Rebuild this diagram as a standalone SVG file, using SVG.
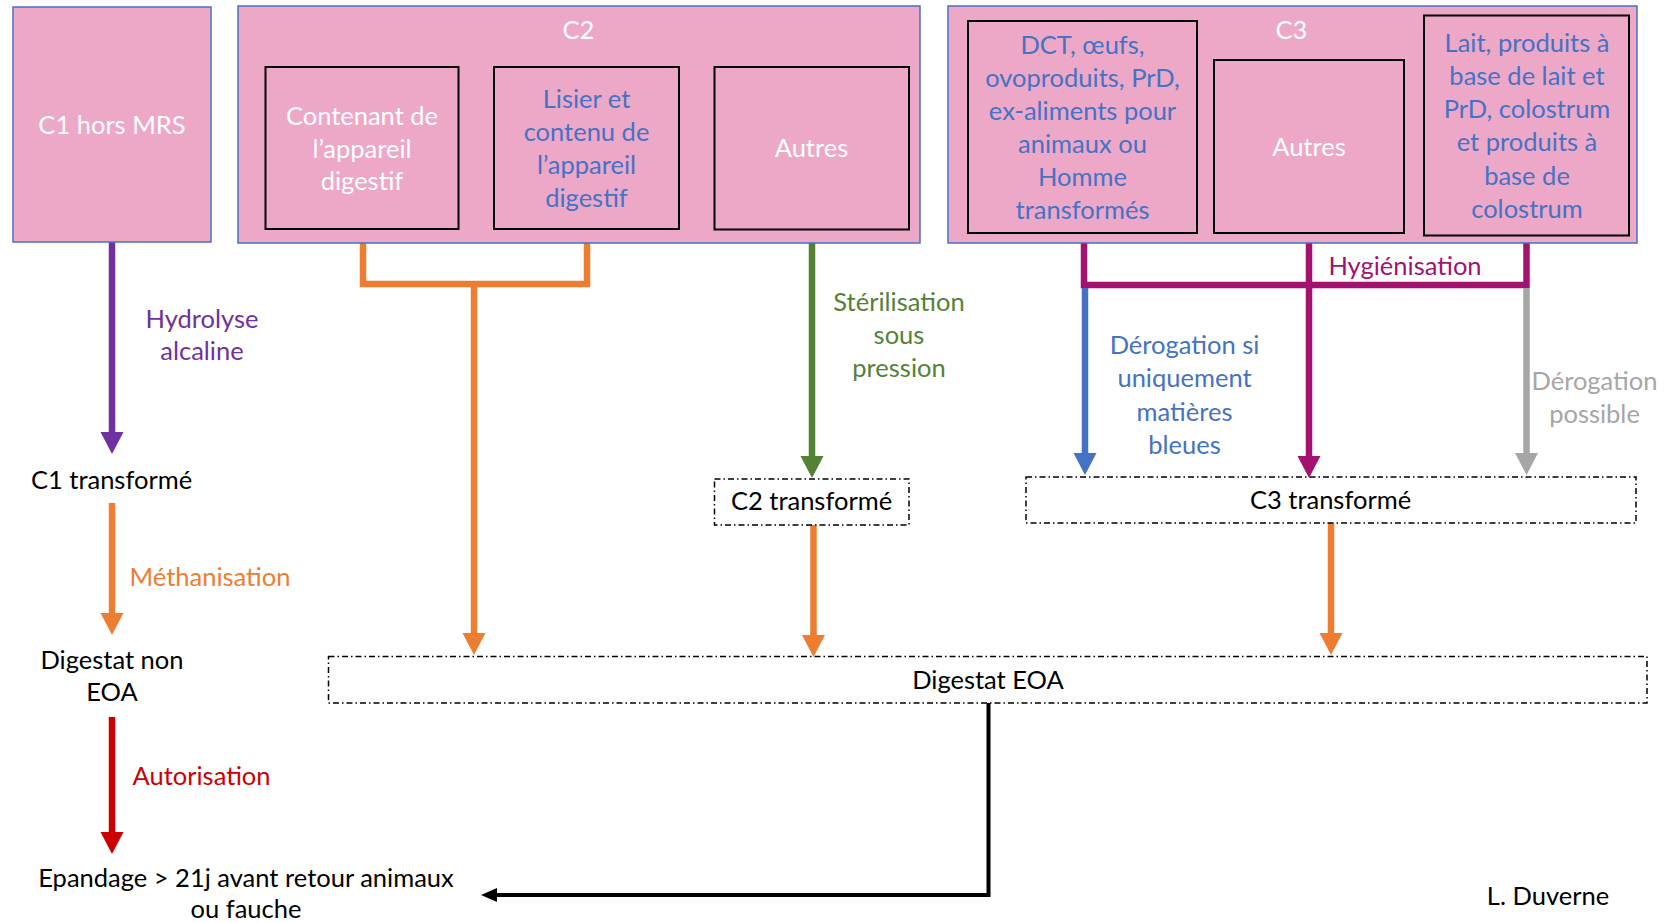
<svg xmlns="http://www.w3.org/2000/svg" width="1666" height="923" viewBox="0 0 1666 923">
  <style>
    text { font-family: Lato, "Open Sans", "Liberation Sans", sans-serif; font-size: 25.5px; text-anchor: middle; }
    .outer { fill: #EDA8C8; stroke: #4472C4; stroke-width: 1.5; }
    .inner { fill: #EDA8C8; stroke: #000; stroke-width: 2; }
    .dash { fill: none; stroke: #000; stroke-width: 1.5; stroke-dasharray: 6 3 1.5 3; }
    .w { fill: #fff; }
    .b { fill: #4472C4; }
    .k { fill: #000; }
    .conn { fill: none; stroke-width: 6.5; stroke-linejoin: miter; }
    .purple { stroke: #7030A0; }
    .orange { stroke: #ED7D31; }
    .green { stroke: #548235; }
    .mag { stroke: #A3126F; }
    .blue { stroke: #4472C4; }
    .gray { stroke: #A6A6A6; }
    .red { stroke: #CC0000; }
    .black { stroke: #000; stroke-width: 4; }
  </style>
  <defs>
    <marker id="ah-purple" markerUnits="userSpaceOnUse" markerWidth="24" markerHeight="24" refX="0" refY="11.5" orient="auto"><path d="M0,0 L22,11.5 L0,23 z" fill="#7030A0"/></marker>
    <marker id="ah-orange" markerUnits="userSpaceOnUse" markerWidth="24" markerHeight="24" refX="0" refY="11.5" orient="auto"><path d="M0,0 L22,11.5 L0,23 z" fill="#ED7D31"/></marker>
    <marker id="ah-green" markerUnits="userSpaceOnUse" markerWidth="24" markerHeight="24" refX="0" refY="11.5" orient="auto"><path d="M0,0 L22,11.5 L0,23 z" fill="#548235"/></marker>
    <marker id="ah-mag" markerUnits="userSpaceOnUse" markerWidth="24" markerHeight="24" refX="0" refY="11.5" orient="auto"><path d="M0,0 L22,11.5 L0,23 z" fill="#A3126F"/></marker>
    <marker id="ah-blue" markerUnits="userSpaceOnUse" markerWidth="24" markerHeight="24" refX="0" refY="11.5" orient="auto"><path d="M0,0 L22,11.5 L0,23 z" fill="#4472C4"/></marker>
    <marker id="ah-gray" markerUnits="userSpaceOnUse" markerWidth="24" markerHeight="24" refX="0" refY="11.5" orient="auto"><path d="M0,0 L22,11.5 L0,23 z" fill="#A6A6A6"/></marker>
    <marker id="ah-red" markerUnits="userSpaceOnUse" markerWidth="24" markerHeight="24" refX="0" refY="11.5" orient="auto"><path d="M0,0 L22,11.5 L0,23 z" fill="#CC0000"/></marker>
    <marker id="ah-black" markerUnits="userSpaceOnUse" markerWidth="18" markerHeight="16" refX="0" refY="7" orient="auto"><path d="M0,0 L16,7 L0,14 z" fill="#000"/></marker>
  </defs>

  <!-- connectors -->
  <g id="connectors">
    <path class="conn purple" d="M112,242 V432" marker-end="url(#ah-purple)"/>
    <path class="conn orange" d="M112,503 V613" marker-end="url(#ah-orange)"/>
    <path class="conn red" d="M112,717 V832" marker-end="url(#ah-red)"/>
    <path class="conn orange" d="M363,229 V284 H587 V229"/>
    <path class="conn orange" d="M474,284 V633" marker-end="url(#ah-orange)"/>
    <path class="conn green" d="M812,229 V456" marker-end="url(#ah-green)"/>
    <path class="conn orange" d="M813.5,525 V635" marker-end="url(#ah-orange)"/>
    <path class="conn mag" d="M1084,233 V285 H1526.5 V236"/>
    <path class="conn mag" d="M1309,233 V456" marker-end="url(#ah-mag)"/>
    <path class="conn blue" d="M1085,288 V453" marker-end="url(#ah-blue)"/>
    <path class="conn gray" d="M1526.5,288 V453" marker-end="url(#ah-gray)"/>
    <path class="conn orange" d="M1331,523 V633" marker-end="url(#ah-orange)"/>
    <path class="conn black" d="M988.5,703 V895 H497" marker-end="url(#ah-black)"/>
  </g>

  <!-- C1 source -->
  <g id="c1">
    <rect class="outer" x="13" y="7" width="198" height="235"/>
    <text class="w" x="112" y="134">C1 hors MRS</text>
  </g>

  <!-- C2 group -->
  <g id="c2">
    <rect class="outer" x="238" y="6" width="682" height="237"/>
    <text class="w" x="578.5" y="39">C2</text>
  </g>
  <g id="c2-contenant">
    <rect class="inner" x="265.5" y="67" width="193" height="162"/>
    <text class="w" x="362" y="125">Contenant de</text>
    <text class="w" x="362" y="157.5">l’appareil</text>
    <text class="w" x="362" y="190">digestif</text>
  </g>
  <g id="c2-lisier">
    <rect class="inner" x="494" y="67" width="185" height="162"/>
    <text class="b" x="586.5" y="107.5">Lisier et</text>
    <text class="b" x="586.5" y="140.5">contenu de</text>
    <text class="b" x="586.5" y="174">l’appareil</text>
    <text class="b" x="586.5" y="207">digestif</text>
  </g>
  <g id="c2-autres">
    <rect class="inner" x="714.5" y="67" width="194.5" height="162.5"/>
    <text class="w" x="811.5" y="157">Autres</text>
  </g>

  <!-- C3 group -->
  <g id="c3">
    <rect class="outer" x="948" y="6" width="689" height="237"/>
    <text class="w" x="1291.5" y="38.5">C3</text>
  </g>
  <g id="c3-dct">
    <rect class="inner" x="968" y="21" width="229" height="212"/>
    <text class="b" x="1082.5" y="53.5">DCT, œufs,</text>
    <text class="b" x="1082.5" y="86.5">ovoproduits, PrD,</text>
    <text class="b" x="1082.5" y="119.5">ex-aliments pour</text>
    <text class="b" x="1082.5" y="152.5">animaux ou</text>
    <text class="b" x="1082.5" y="186">Homme</text>
    <text class="b" x="1082.5" y="219">transformés</text>
  </g>
  <g id="c3-autres">
    <rect class="inner" x="1214" y="60" width="190" height="173"/>
    <text class="w" x="1309" y="156">Autres</text>
  </g>
  <g id="c3-lait">
    <rect class="inner" x="1424" y="15.5" width="205" height="220"/>
    <text class="b" x="1527" y="51.5">Lait, produits à</text>
    <text class="b" x="1527" y="84.5">base de lait et</text>
    <text class="b" x="1527" y="117.5">PrD, colostrum</text>
    <text class="b" x="1527" y="151">et produits à</text>
    <text class="b" x="1527" y="184.5">base de</text>
    <text class="b" x="1527" y="217.5">colostrum</text>
  </g>

  <!-- process labels -->
  <g id="labels">
    <text x="202" y="327.5" fill="#7030A0">Hydrolyse</text>
    <text x="202" y="360" fill="#7030A0">alcaline</text>
    <text x="129.5" y="586" fill="#ED7D31" style="text-anchor:start">Méthanisation</text>
    <text x="132.5" y="785" fill="#CC0000" style="text-anchor:start">Autorisation</text>
    <text x="899" y="311" fill="#548235">Stérilisation</text>
    <text x="899" y="343.5" fill="#548235">sous</text>
    <text x="899" y="376.5" fill="#548235">pression</text>
    <text x="1405" y="275" fill="#A3126F">Hygiénisation</text>
    <text x="1184.5" y="354" fill="#4472C4">Dérogation si</text>
    <text x="1184.5" y="387" fill="#4472C4">uniquement</text>
    <text x="1184.5" y="420.5" fill="#4472C4">matières</text>
    <text x="1184.5" y="453.5" fill="#4472C4">bleues</text>
    <text x="1594.5" y="390" fill="#A6A6A6">Dérogation</text>
    <text x="1594.5" y="422.5" fill="#A6A6A6">possible</text>
  </g>

  <!-- products -->
  <g id="c1-transforme">
    <text class="k" x="111.5" y="488.5">C1 transformé</text>
  </g>
  <g id="digestat-non-eoa">
    <text class="k" x="112" y="668.5">Digestat non</text>
    <text class="k" x="112" y="701">EOA</text>
  </g>
  <g id="c2-transforme">
    <rect class="dash" x="714.5" y="479" width="194.5" height="46"/>
    <text class="k" x="811.5" y="510">C2 transformé</text>
  </g>
  <g id="c3-transforme">
    <rect class="dash" x="1026" y="477" width="610" height="46"/>
    <text class="k" x="1330.5" y="508.5">C3 transformé</text>
  </g>
  <g id="digestat-eoa">
    <rect class="dash" x="328.5" y="656.5" width="1318.5" height="46.5"/>
    <text class="k" x="988" y="688.5">Digestat EOA</text>
  </g>
  <g id="epandage">
    <text class="k" x="246" y="886.5">Epandage &gt; 21j avant retour animaux</text>
    <text class="k" x="246" y="918">ou fauche</text>
  </g>
  <g id="author">
    <text class="k" x="1548" y="905">L. Duverne</text>
  </g>
</svg>
